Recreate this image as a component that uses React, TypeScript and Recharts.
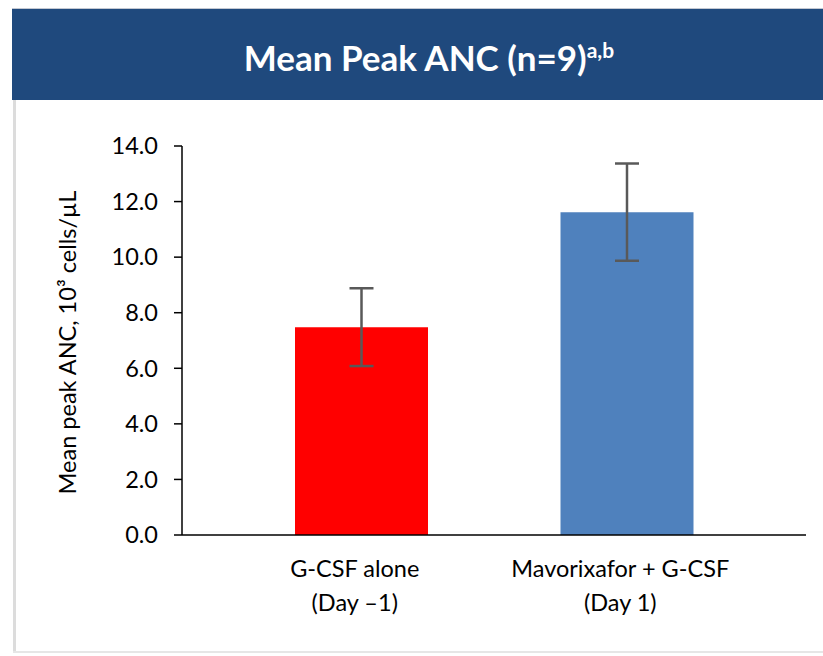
import { BarChart, Bar, XAxis, YAxis, ErrorBar, Cell, Label } from "recharts";

const categories = ["G-CSF alone", "Mavorixafor + G-CSF"];
const dayLabels = ["(Day –1)", "(Day 1)"];
const meanPeakAnc = [7.48, 11.62];
const errorSd = [1.4, 1.75];
const barColors = ["#FF0000", "#4F81BD"];
const yTicks = [0, 2, 4, 6, 8, 10, 12, 14];

const data = categories.map((name, i) => ({
  name,
  day: dayLabels[i],
  value: meanPeakAnc[i],
  err: errorSd[i],
}));

const FONT = "Lato, 'Open Sans', sans-serif";

function CategoryTick(props: any) {
  const { x, y, payload, index } = props;
  const cx = x - 7;
  return (
    <text x={cx} y={y} textAnchor="middle" fontSize={23.5} fill="#000" fontFamily={FONT}>
      <tspan x={cx} dy={34}>{payload.value}</tspan>
      <tspan x={cx} dy={34}>{dayLabels[index]}</tspan>
    </text>
  );
}

export default function App() {
  return (
    <div style={{ position: "absolute", left: 0, top: 0, width: 823, height: 656, background: "#fff", overflow: "hidden" }}>
      {/* header band */}
      <div
        style={{
          position: "absolute",
          left: 12,
          top: 8,
          width: 820,
          height: 92,
          background: "#1F497D",
          borderTop: "1px solid #c3c8d2",
          boxSizing: "border-box",
          display: "flex",
          alignItems: "center",
          justifyContent: "center",
          color: "#fff",
          fontFamily: FONT,
          fontWeight: 700,
          fontSize: 35,
        }}
      >
        <span style={{ marginLeft: 14, marginTop: 4 }}>
          Mean Peak ANC (n=9)<sup style={{ fontSize: 21 }}>a,b</sup>
        </span>
      </div>
      {/* frame edges */}
      <div style={{ position: "absolute", left: 13, top: 100, width: 3, height: 551, background: "#dcdcdc" }} />
      <div style={{ position: "absolute", left: 13, top: 651, width: 810, height: 2, background: "#e6e6e6" }} />

      <div style={{ position: "absolute", left: 0, top: 0 }}>
        <BarChart width={823} height={656} data={data} margin={{ top: 146, right: 17, bottom: 0, left: 0 }}>
          <XAxis
            dataKey="name"
            height={121}
            padding={{ left: 47, right: 46 }}
            tickLine={false}
            axisLine={{ stroke: "#000", strokeWidth: 1.5 }}
            tick={<CategoryTick />}
            interval={0}
          />
          <YAxis
            width={182}
            domain={[0, 14]}
            ticks={yTicks}
            tickFormatter={(v: number) => v.toFixed(1)}
            tick={{ fontSize: 23.5, fill: "#000", fontFamily: FONT }}
            tickSize={8}
            tickMargin={16}
            axisLine={{ stroke: "#000", strokeWidth: 1.5 }}
            tickLine={{ stroke: "#000", strokeWidth: 1.5 }}
          >
            <Label
              content={(p: any) => {
                const vb = p.viewBox || {};
                const cy = (vb.y ?? 146) + (vb.height ?? 389) / 2 + 2;
                return (
                  <text
                    x={67}
                    y={cy}
                    transform={`rotate(-90, 67, ${cy})`}
                    textAnchor="middle"
                    dominantBaseline="central"
                    fontSize={23.5}
                    fill="#000"
                    fontFamily={FONT}
                  >
                    Mean peak ANC, 10³ cells/µL
                  </text>
                );
              }}
            />
          </YAxis>
          <Bar dataKey="value" barSize={133} isAnimationActive={false}>
            {data.map((d, i) => (
              <Cell key={d.name} fill={barColors[i]} />
            ))}
            <ErrorBar dataKey="err" width={12} stroke="#595959" strokeWidth={2.5} isAnimationActive={false} />
          </Bar>
        </BarChart>
      </div>
    </div>
  );
}
